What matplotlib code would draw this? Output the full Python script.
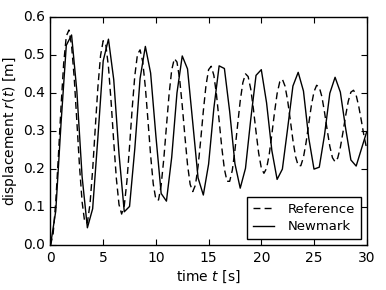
import matplotlib
matplotlib.use("Agg")
import matplotlib.pyplot as plt
import numpy as np

plt.style.use("classic")
plt.rcParams["font.family"] = ["DejaVu Sans"]
plt.rcParams["mathtext.fontset"] = "dejavusans"

# Reference solution (sampled every 0.25 s)
t_ref = np.arange(0, 30.0001, 0.25)
r_ref = [
    0.000, 0.030, 0.114, 0.234, 0.364, 0.477, 0.549, 0.565, 0.525, 0.440,
    0.326, 0.209, 0.114, 0.060, 0.059, 0.109, 0.198, 0.309, 0.416, 0.498,
    0.537, 0.526, 0.468, 0.377, 0.272, 0.175, 0.107, 0.082, 0.104, 0.168,
    0.259, 0.359, 0.445, 0.501, 0.513, 0.482, 0.415, 0.327, 0.236, 0.161,
    0.120, 0.119, 0.158, 0.227, 0.312, 0.396, 0.460, 0.490, 0.481, 0.437,
    0.367, 0.287, 0.212, 0.160, 0.141, 0.158, 0.207, 0.276, 0.352, 0.419,
    0.461, 0.470, 0.446, 0.395, 0.327, 0.257, 0.200, 0.168, 0.168, 0.197,
    0.250, 0.315, 0.379, 0.427, 0.450, 0.443, 0.410, 0.358, 0.298, 0.242,
    0.203, 0.189, 0.202, 0.238, 0.291, 0.348, 0.398, 0.429, 0.436, 0.418,
    0.380, 0.329, 0.276, 0.233, 0.209, 0.209, 0.231, 0.270, 0.319, 0.367,
    0.403, 0.420, 0.415, 0.390, 0.349, 0.303, 0.260, 0.230, 0.219, 0.229,
    0.257, 0.297, 0.340, 0.378, 0.402, 0.407, 0.394, 0.364, 0.326, 0.286,
    0.253,
]

# Newmark solution (time step 0.5 s)
t_nm = np.arange(0, 30.0001, 0.5)
r_nm = [
    0.000, 0.090, 0.320, 0.525, 0.552, 0.405, 0.180, 0.046, 0.096, 0.284,
    0.484, 0.541, 0.435, 0.240, 0.088, 0.102, 0.254, 0.438, 0.522, 0.452,
    0.287, 0.136, 0.116, 0.231, 0.400, 0.497, 0.463, 0.321, 0.177, 0.132,
    0.213, 0.360, 0.471, 0.464, 0.351, 0.214, 0.150, 0.202, 0.331, 0.446,
    0.461, 0.374, 0.249, 0.173, 0.200, 0.307, 0.418, 0.454, 0.405, 0.282,
    0.200, 0.205, 0.290, 0.399, 0.441, 0.402, 0.307, 0.224, 0.208, 0.253,
    0.298,
]

x_ticks = [0, 5, 10, 15, 20, 25, 30]
y_ticks = [0.0, 0.1, 0.2, 0.3, 0.4, 0.5, 0.6]

fig = plt.figure(figsize=(3.86, 2.90), dpi=100, facecolor="white")
ax = fig.add_axes([0.1308, 0.1541, 0.8192, 0.7883])

ax.plot(t_ref, r_ref, color="black", ls="--", dashes=(5, 3), lw=1.0,
        label="Reference")
ax.plot(t_nm, r_nm, color="black", ls="-", lw=1.0, label="Newmark")

ax.set_xlim(0, 30)
ax.set_ylim(0, 0.6)
ax.set_xticks(x_ticks)
ax.set_yticks(y_ticks)
ax.set_yticklabels(["%.1f" % v for v in y_ticks])
ax.tick_params(labelsize=10, direction="in", length=4, width=0.8,
               top=True, right=True, pad=4)
for s in ax.spines.values():
    s.set_linewidth(1.0)

ax.set_xlabel("time $t$ [s]", fontsize=10, labelpad=3)
ax.set_ylabel("displacement $r(t)$ [m]", fontsize=10, labelpad=3)

leg = ax.legend(loc="lower right", fontsize=9.5, handlelength=1.6,
                numpoints=1, fancybox=False, borderpad=0.45,
                labelspacing=0.35, handletextpad=1.0, borderaxespad=0.45)
leg.get_frame().set_edgecolor("black")
leg.get_frame().set_linewidth(1.0)

fig.savefig("out.png", dpi=100, facecolor="white")
